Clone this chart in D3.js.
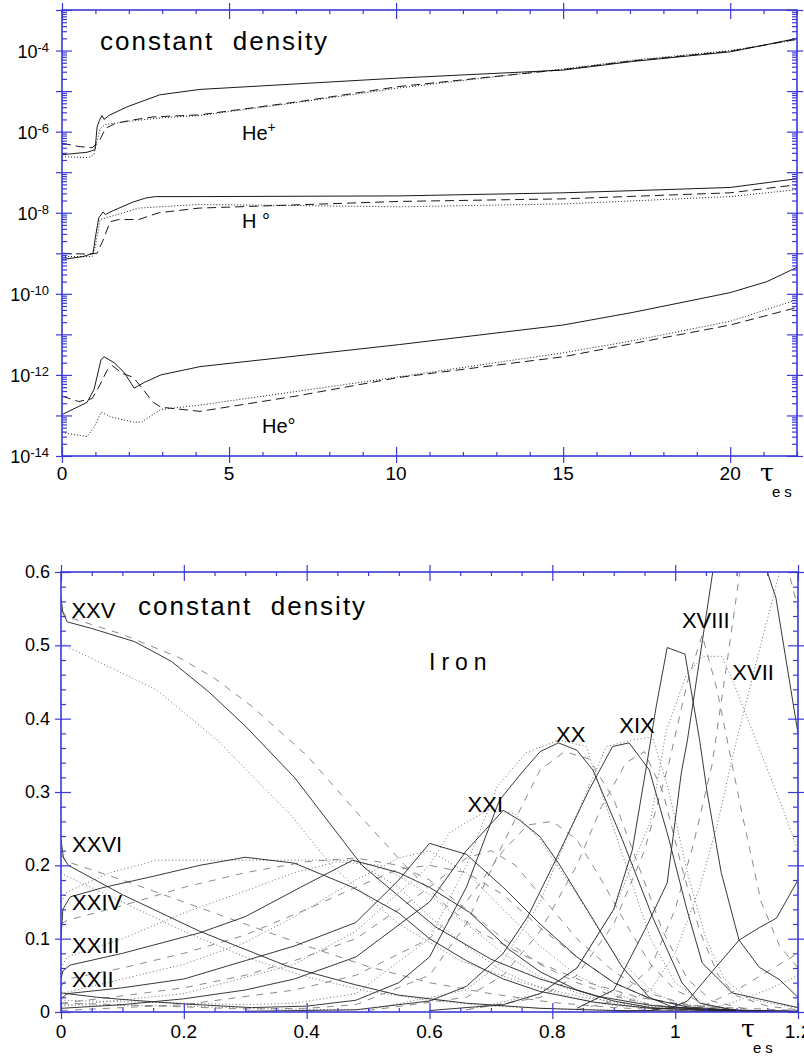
<!DOCTYPE html>
<html>
<head>
<meta charset="utf-8">
<script src="https://cdn.jsdelivr.net/npm/d3@7"></script>
<style>
  body { margin: 0; background: #fff; }
  svg { display: block; }
  text { font-family: "Liberation Sans", Arial, sans-serif; fill: #000; }
</style>
</head>
<body>
<div id="wrapper"></div>
<script>
// ---------- top panel : H and He fractions vs tau (log scale) ----------
const heIISolid  = [[0,2.7e-7],[0.75,3.1e-7],[0.99,3.6e-7],[1.05,1.3e-6],[1.12,1.9e-6],[1.2,2.5e-6],[1.26,2.0e-6],[1.4,2.5e-6],[1.95,4.1e-6],[2.93,8.1e-6],[4.13,1.1e-5],[10.1,2.1e-5],[15,3.3e-5],[17.1,5.4e-5],[20,9.3e-5],[21,1.35e-4],[22,2.0e-4]];
const heIIDashed = [[0,5.2e-7],[0.5,4.3e-7],[0.9,4.0e-7],[1.1,5.5e-7],[1.3,1.2e-6],[1.6,1.6e-6],[2.13,1.95e-6],[2.72,2.3e-6],[4.13,2.6e-6],[7.1,5.5e-6],[10.1,1.3e-5],[13.6,2.6e-5],[15,3.4e-5],[17.1,5.6e-5],[20,9.6e-5],[22,1.9e-4]];
const heIIDotted = [[0,2.4e-7],[0.8,2.3e-7],[0.95,2.7e-7],[1.05,6e-7],[1.15,1.2e-6],[1.3,1.5e-6],[2,1.8e-6],[3,2.2e-6],[4.13,2.5e-6],[7.1,5.3e-6],[10.1,1.2e-5],[13.6,2.6e-5],[15,3.5e-5],[17.1,5.8e-5],[20,1.0e-4],[22,1.85e-4]];

const hISolid  = [[0,7e-10],[0.63,8.3e-10],[0.93,1.0e-9],[1.0,2.5e-9],[1.1,7.5e-9],[1.23,1.05e-8],[1.3,9e-9],[1.5,1.1e-8],[2.1,1.8e-8],[2.5,2.3e-8],[2.8,2.5e-8],[4.1,2.5e-8],[10.1,2.6e-8],[15,3.1e-8],[17.1,3.5e-8],[20,4.2e-8],[22,6.9e-8]];
const hIDashed = [[0,1.0e-9],[0.8,9.5e-10],[1.05,1.0e-9],[1.23,2.1e-9],[1.44,6e-9],[1.7,6.8e-9],[2.3,6.8e-9],[2.9,1.0e-8],[4.1,1.3e-8],[10.1,1.9e-8],[15,2.2e-8],[20,3.1e-8],[22,4.9e-8]];
const hIDotted = [[0,8.3e-10],[0.9,8.3e-10],[1.0,1.5e-9],[1.14,6.8e-9],[1.35,7.6e-9],[2.3,1.3e-8],[4.1,1.6e-8],[10.1,1.4e-8],[15,1.65e-8],[20,2.5e-8],[22,3.7e-8]];

const heISolid  = [[0,1.05e-13],[0.75,2.1e-13],[0.96,4.4e-13],[1.17,2.4e-12],[1.26,2.8e-12],[1.56,2.0e-12],[1.86,1.15e-12],[2.16,4.7e-13],[2.46,6.5e-13],[2.96,1.0e-12],[4.13,1.6e-12],[10.1,5.6e-12],[15,1.7e-11],[17.1,3.5e-11],[20,1.07e-10],[21.1,2.0e-10],[22,4.5e-10]];
const heIDashed = [[0,3e-13],[0.5,2.2e-13],[0.9,2.6e-13],[1.1,5e-13],[1.35,1.3e-12],[1.5,1.7e-12],[1.8,1.1e-12],[2.13,8.7e-13],[2.43,4.4e-13],[2.7,2.2e-13],[2.96,1.6e-13],[4.13,1.26e-13],[7,3e-13],[10.1,8.7e-13],[15,2.8e-12],[20,1.7e-11],[22,4.6e-11]];
const heIDotted = [[0,3.8e-14],[0.75,3e-14],[0.95,5e-14],[1.17,1.2e-13],[1.5,9e-14],[2.16,6.8e-14],[2.37,6.8e-14],[2.96,1.4e-13],[4.13,1.8e-13],[10.1,9e-13],[15,3.5e-12],[17.1,7e-12],[20,2.1e-11],[22,7.2e-11]];

const topXTicks = [0, 5, 10, 15, 20];
const topYLabelExp = [-4, -6, -8, -10, -12, -14];

// ---------- bottom panel : iron ion fractions vs tau ----------
const fe26Solid  = [[0,0.235],[0.004,0.21],[0.012,0.2],[0.1,0.16],[0.226,0.11],[0.37,0.062],[0.48,0.037],[0.55,0.023],[0.66,0.012],[0.78,0.005],[0.9,0.002],[1.2,0]];
const fe26Dashed = [[0,0.215],[0.01,0.205],[0.1,0.18],[0.2,0.15],[0.3,0.12],[0.4,0.09],[0.5,0.062],[0.6,0.04],[0.7,0.025],[0.8,0.013],[0.9,0.006],[1.0,0.002],[1.2,0]];
const fe26Dotted = [[0,0.19],[0.01,0.185],[0.1,0.15],[0.2,0.11],[0.3,0.075],[0.4,0.048],[0.5,0.028],[0.6,0.016],[0.7,0.008],[0.85,0.003],[1.0,0.001],[1.2,0]];

const fe25Solid  = [[0,0.565],[0.003,0.545],[0.01,0.532],[0.05,0.523],[0.12,0.505],[0.18,0.478],[0.24,0.437],[0.3,0.39],[0.38,0.32],[0.49,0.2],[0.61,0.116],[0.7,0.072],[0.78,0.045],[0.87,0.022],[0.96,0.009],[1.05,0.003],[1.2,0.001]];
const fe25Dashed = [[0,0.548],[0.01,0.539],[0.1,0.515],[0.193,0.483],[0.25,0.455],[0.312,0.416],[0.4,0.35],[0.483,0.271],[0.56,0.2],[0.62,0.15],[0.68,0.11],[0.77,0.07],[0.85,0.042],[0.94,0.02],[1.03,0.008],[1.2,0.002]];
const fe25Dotted = [[0,0.505],[0.01,0.498],[0.08,0.47],[0.156,0.439],[0.254,0.371],[0.377,0.266],[0.44,0.2],[0.55,0.12],[0.65,0.07],[0.75,0.04],[0.85,0.02],[0.95,0.008],[1.1,0.002]];

const fe24Solid  = [[0,0.1],[0.003,0.14],[0.015,0.157],[0.07,0.17],[0.15,0.185],[0.226,0.2],[0.3,0.211],[0.38,0.203],[0.475,0.17],[0.55,0.135],[0.6,0.1],[0.66,0.07],[0.72,0.045],[0.78,0.028],[0.87,0.013],[0.96,0.005],[1.2,0.001]];
const fe24Dashed = [[0,0.12],[0.01,0.125],[0.1,0.145],[0.2,0.17],[0.3,0.19],[0.4,0.205],[0.48,0.21],[0.55,0.2],[0.6,0.18],[0.66,0.14],[0.72,0.1],[0.78,0.065],[0.84,0.04],[0.9,0.022],[0.96,0.01],[1.05,0.003],[1.2,0]];
const fe24Dotted = [[0,0.15],[0.01,0.164],[0.08,0.19],[0.156,0.207],[0.475,0.207],[0.55,0.17],[0.6,0.13],[0.66,0.09],[0.72,0.055],[0.78,0.033],[0.84,0.018],[0.9,0.009],[1.0,0.003],[1.2,0]];

const fe23Solid  = [[0,0.045],[0.003,0.056],[0.015,0.064],[0.1,0.08],[0.226,0.108],[0.3,0.13],[0.39,0.17],[0.475,0.207],[0.55,0.19],[0.6,0.17],[0.665,0.136],[0.73,0.085],[0.78,0.055],[0.84,0.03],[0.9,0.015],[0.96,0.006],[1.05,0.002],[1.2,0]];
const fe23Dashed = [[0,0.035],[0.01,0.045],[0.1,0.06],[0.2,0.08],[0.3,0.105],[0.4,0.14],[0.48,0.17],[0.55,0.195],[0.6,0.2],[0.66,0.19],[0.72,0.16],[0.78,0.115],[0.84,0.075],[0.9,0.04],[0.96,0.018],[1.02,0.007],[1.1,0.002]];
const fe23Dotted = [[0,0.06],[0.01,0.075],[0.1,0.1],[0.2,0.135],[0.3,0.165],[0.38,0.19],[0.45,0.205],[0.52,0.2],[0.6,0.16],[0.66,0.12],[0.72,0.08],[0.78,0.048],[0.84,0.026],[0.9,0.012],[0.96,0.005],[1.05,0.001]];

const fe22Solid  = [[0,0.018],[0.01,0.025],[0.1,0.033],[0.2,0.045],[0.3,0.07],[0.38,0.09],[0.48,0.122],[0.55,0.18],[0.6,0.23],[0.66,0.215],[0.72,0.17],[0.78,0.12],[0.84,0.075],[0.9,0.04],[0.96,0.018],[1.02,0.007],[1.1,0.002]];
const fe22Dashed = [[0,0.012],[0.1,0.022],[0.2,0.033],[0.3,0.05],[0.38,0.07],[0.48,0.1],[0.55,0.14],[0.6,0.17],[0.66,0.21],[0.7,0.22],[0.74,0.2],[0.78,0.16],[0.84,0.1],[0.9,0.055],[0.96,0.025],[1.02,0.01],[1.1,0.003]];
const fe22Dotted = [[0,0.025],[0.1,0.045],[0.2,0.065],[0.3,0.095],[0.38,0.13],[0.48,0.18],[0.55,0.21],[0.6,0.22],[0.66,0.19],[0.72,0.14],[0.78,0.09],[0.84,0.05],[0.9,0.025],[0.96,0.01],[1.05,0.002]];

const fe21Solid  = [[0,0.005],[0.1,0.01],[0.2,0.018],[0.3,0.03],[0.38,0.045],[0.48,0.075],[0.6,0.15],[0.66,0.22],[0.72,0.275],[0.746,0.262],[0.78,0.239],[0.81,0.203],[0.86,0.135],[0.914,0.061],[0.958,0.02],[0.995,0.007],[1.1,0.001]];
const fe21Dashed = [[0,0.002],[0.2,0.01],[0.38,0.03],[0.48,0.05],[0.6,0.1],[0.66,0.15],[0.72,0.22],[0.76,0.255],[0.8,0.26],[0.84,0.235],[0.88,0.18],[0.92,0.12],[0.96,0.065],[1.0,0.03],[1.05,0.01],[1.1,0.003]];
const fe21Dotted = [[0,0.008],[0.2,0.025],[0.38,0.065],[0.48,0.11],[0.6,0.2],[0.633,0.245],[0.7,0.278],[0.74,0.27],[0.78,0.235],[0.84,0.16],[0.9,0.08],[0.96,0.03],[1.0,0.012],[1.1,0.002]];

const fe20Solid  = [[0,0.026],[0.06,0.02],[0.117,0.016],[0.2,0.011],[0.31,0.006],[0.4,0.008],[0.48,0.016],[0.55,0.04],[0.6,0.075],[0.66,0.17],[0.714,0.289],[0.75,0.326],[0.78,0.355],[0.81,0.367],[0.84,0.357],[0.866,0.33],[0.914,0.235],[0.963,0.13],[1.011,0.04],[1.04,0.012],[1.1,0.002]];
const fe20Dashed = [[0,0.012],[0.1,0.01],[0.2,0.007],[0.3,0.004],[0.4,0.005],[0.48,0.01],[0.6,0.05],[0.66,0.12],[0.72,0.23],[0.78,0.33],[0.82,0.355],[0.86,0.345],[0.9,0.29],[0.94,0.2],[0.98,0.11],[1.02,0.045],[1.06,0.015],[1.12,0.003]];
const fe20Dotted = [[0,0.016],[0.1,0.014],[0.2,0.012],[0.3,0.01],[0.38,0.012],[0.48,0.025],[0.6,0.1],[0.66,0.2],[0.71,0.307],[0.757,0.353],[0.81,0.371],[0.855,0.362],[0.88,0.3],[0.92,0.2],[0.96,0.1],[1.0,0.04],[1.05,0.01],[1.1,0.002]];

const fe19Solid  = [[0.3,0.001],[0.48,0.003],[0.6,0.015],[0.66,0.035],[0.72,0.08],[0.76,0.13],[0.8,0.198],[0.86,0.303],[0.898,0.362],[0.925,0.367],[0.958,0.33],[0.99,0.235],[1.018,0.143],[1.044,0.067],[1.093,0.026],[1.2,0.006]];
const fe19Dashed = [[0.5,0.002],[0.66,0.02],[0.72,0.05],[0.78,0.11],[0.84,0.2],[0.88,0.28],[0.92,0.34],[0.95,0.355],[0.98,0.3],[1.01,0.2],[1.04,0.11],[1.07,0.05],[1.1,0.022],[1.15,0.008],[1.2,0.003]];
const fe19Dotted = [[0,0.01],[0.2,0.008],[0.35,0.004],[0.5,0.003],[0.66,0.03],[0.72,0.07],[0.78,0.15],[0.84,0.27],[0.888,0.362],[0.93,0.371],[0.963,0.375],[0.99,0.3],[1.02,0.19],[1.05,0.1],[1.08,0.045],[1.12,0.018],[1.2,0.005]];

const fe18Solid  = [[0.6,0.002],[0.72,0.01],[0.78,0.025],[0.84,0.06],[0.9,0.14],[0.93,0.22],[0.953,0.334],[0.969,0.416],[0.987,0.497],[1.016,0.488],[1.04,0.37],[1.052,0.3],[1.075,0.19],[1.104,0.098],[1.137,0.061],[1.17,0.044],[1.2,0.02]];
const fe18Dashed = [[0.66,0.003],[0.78,0.02],[0.84,0.05],[0.9,0.12],[0.95,0.22],[0.99,0.34],[1.02,0.45],[1.044,0.514],[1.068,0.44],[1.109,0.27],[1.14,0.15],[1.17,0.09],[1.2,0.06]];
const fe18Dotted = [[0.66,0.003],[0.78,0.025],[0.84,0.06],[0.9,0.14],[0.96,0.26],[0.985,0.382],[1.018,0.46],[1.045,0.485],[1.076,0.485],[1.093,0.453],[1.174,0.28],[1.2,0.22]];

const fe17Solid  = [[0.84,0.005],[0.9,0.03],[0.953,0.116],[0.987,0.176],[1.01,0.326],[1.02,0.371],[1.063,0.61],[1.1,0.69],[1.15,0.6],[1.164,0.565],[1.2,0.38]];
const fe17Dashed = [[0.84,0.003],[0.9,0.015],[0.96,0.06],[1.0,0.14],[1.03,0.23],[1.06,0.337],[1.085,0.48],[1.107,0.61],[1.14,0.68],[1.17,0.65],[1.2,0.55]];
const fe17Dotted = [[0.9,0.005],[0.96,0.03],[1.0,0.08],[1.04,0.17],[1.07,0.26],[1.093,0.347],[1.13,0.47],[1.17,0.6],[1.2,0.66]];

const fe16Solid  = [[0.9,0],[0.96,0.002],[0.998,0.007],[1.02,0.015],[1.06,0.055],[1.104,0.098],[1.137,0.115],[1.165,0.128],[1.2,0.18]];
const fe16Dashed = [[1.0,0.001],[1.05,0.01],[1.1,0.03],[1.15,0.055],[1.2,0.08]];
const fe16Dotted = [[1.05,0.002],[1.1,0.015],[1.15,0.03],[1.2,0.05]];

// label anchors: left end of text at tau, baseline at fraction
const ironLabels = [
  {t: "XXV", tau: 0.017, v: 0.537}, {t: "XXVI", tau: 0.018, v: 0.218},
  {t: "XXIV", tau: 0.018, v: 0.139}, {t: "XXIII", tau: 0.018, v: 0.080},
  {t: "XXII", tau: 0.018, v: 0.034}, {t: "XXI", tau: 0.662, v: 0.273},
  {t: "XX", tau: 0.806, v: 0.368}, {t: "XIX", tau: 0.909, v: 0.381},
  {t: "XVIII", tau: 1.011, v: 0.524}, {t: "XVII", tau: 1.093, v: 0.453}
];
const botXTicks = [0, 0.2, 0.4, 0.6, 0.8, 1, 1.2];
const botYTicks = [0, 0.1, 0.2, 0.3, 0.4, 0.5, 0.6];

const axisBlue = "#3a3ad8";
const styles = {
  top: {
    solid:  {stroke: "#000", dash: null, w: 0.9},
    dashed: {stroke: "#000", dash: "9,5", w: 0.9},
    dotted: {stroke: "#000", dash: "1,2", w: 0.9}
  },
  bot: {
    solid:  {stroke: "#222", dash: null, w: 0.9},
    dashed: {stroke: "#7d7d7d", dash: "7,7", w: 0.9},
    dotted: {stroke: "#707070", dash: "1,2.5", w: 1}
  }
};

const svg = d3.select("#wrapper").append("svg")
  .attr("width", 804)
  .attr("height", 1057);

// tick marks that cross the frame: one generator outward, one inward
function tickMarks(g, axisFn, scale, values, outSize, inSize) {
  if (outSize > 0) {
    g.append("g").call(axisFn(scale).tickValues(values).tickSize(outSize).tickSizeOuter(0).tickFormat(""));
  }
  g.append("g").call(axisFn(scale).tickValues(values).tickSize(-inSize).tickSizeOuter(0).tickFormat(""));
}

function drawFrame(x, y, xMajor, xMinor, yMajor, yMinor) {
  const [x0, x1] = x.range();
  const [y0, y1] = y.range(); // y0 bottom, y1 top
  const frame = svg.append("g");

  const bottom = frame.append("g").attr("transform", `translate(0,${y0})`);
  tickMarks(bottom, d3.axisBottom, x, xMajor, 7, 9);
  tickMarks(bottom, d3.axisBottom, x, xMinor, 0, 4);
  const top = frame.append("g").attr("transform", `translate(0,${y1})`);
  tickMarks(top, d3.axisTop, x, xMajor, 7, 9);
  tickMarks(top, d3.axisTop, x, xMinor, 0, 4);
  const left = frame.append("g").attr("transform", `translate(${x0},0)`);
  tickMarks(left, d3.axisLeft, y, yMajor, 6, 10);
  tickMarks(left, d3.axisLeft, y, yMinor, 0, 5);
  const right = frame.append("g").attr("transform", `translate(${x1},0)`);
  tickMarks(right, d3.axisRight, y, yMajor, 6, 10);
  tickMarks(right, d3.axisRight, y, yMinor, 0, 5);

  frame.selectAll(".domain").remove();
  frame.selectAll(".tick line").attr("stroke", axisBlue).attr("stroke-width", 1.2);

  frame.append("rect")
    .attr("x", x0).attr("y", y1)
    .attr("width", x1 - x0).attr("height", y0 - y1)
    .attr("fill", "none")
    .attr("stroke", axisBlue)
    .attr("stroke-width", 1.6);
}

function drawSeries(x, y, series, clipId, st) {
  const [x0, x1] = x.range();
  const [y0, y1] = y.range();
  svg.append("clipPath").attr("id", clipId)
    .append("rect").attr("x", x0).attr("y", y1).attr("width", x1 - x0).attr("height", y0 - y1);
  const line = d3.line().x(d => x(d[0])).y(d => y(d[1]));
  const g = svg.append("g").attr("clip-path", `url(#${clipId})`);
  series.forEach(s => {
    const p = st[s.style];
    g.append("path")
      .attr("d", line(s.data))
      .attr("fill", "none")
      .attr("stroke", p.stroke)
      .attr("stroke-width", p.w)
      .attr("stroke-dasharray", p.dash);
  });
}

function tauLabel(xPos, yPos) {
  svg.append("text").attr("x", xPos).attr("y", yPos)
    .style("font-family", "'DejaVu Serif', serif").style("font-size", "25px").text("τ");
  svg.append("text").attr("x", xPos + 12).attr("y", yPos + 16)
    .style("font-size", "15px").style("letter-spacing", "4px").text("es");
}

// ================= top panel =================
const xTop = d3.scaleLinear().domain([0, 22]).range([62, 797]);
const yTop = d3.scaleLog().domain([1e-14, 1e-3]).range([456, 10]);

const topSeries = [
  {data: heIISolid, style: "solid"}, {data: heIIDashed, style: "dashed"}, {data: heIIDotted, style: "dotted"},
  {data: hISolid, style: "solid"}, {data: hIDashed, style: "dashed"}, {data: hIDotted, style: "dotted"},
  {data: heISolid, style: "solid"}, {data: heIDashed, style: "dashed"}, {data: heIDotted, style: "dotted"}
];
drawSeries(xTop, yTop, topSeries, "clipTop", styles.top);

const decades = d3.range(-14, -2).map(e => Math.pow(10, e));
const logMinor = [];
decades.slice(0, -1).forEach(dv => d3.range(2, 10).forEach(m => logMinor.push(dv * m)));
drawFrame(xTop, yTop, topXTicks, d3.range(0, 23).filter(v => v % 5 !== 0), decades, logMinor);

svg.append("g").selectAll("text")
  .data(topXTicks).join("text")
  .attr("x", d => xTop(d)).attr("y", 480)
  .attr("text-anchor", "middle")
  .style("font-size", "19px")
  .text(d => d);

const yLab = svg.append("g").selectAll("text")
  .data(topYLabelExp).join("text")
  .attr("x", 49).attr("y", d => yTop(Math.pow(10, d)) + 7)
  .attr("text-anchor", "end")
  .style("font-size", "18px");
yLab.append("tspan").text("10");
yLab.append("tspan").attr("dy", -6).style("font-size", "13px").text(d => d);

tauLabel(760, 481);

svg.append("text").attr("x", 100).attr("y", 50)
  .style("font-size", "26px").style("letter-spacing", "2px")
  .text("constant\u00a0\u00a0density");
const heIIlab = svg.append("text").attr("x", 242).attr("y", 140).style("font-size", "20px");
heIIlab.append("tspan").text("He");
heIIlab.append("tspan").attr("dy", -8).style("font-size", "14px").text("+");
svg.append("text").attr("x", 242).attr("y", 228).style("font-size", "20px").text("H\u00a0\u00b0");
svg.append("text").attr("x", 262).attr("y", 433).style("font-size", "20px").text("He\u00b0");

// ================= bottom panel =================
const xBot = d3.scaleLinear().domain([0, 1.2]).range([61, 798]);
const yBot = d3.scaleLinear().domain([0, 0.6]).range([1012, 572]);

const ironSets = [
  [fe26Solid, fe26Dashed, fe26Dotted], [fe25Solid, fe25Dashed, fe25Dotted],
  [fe24Solid, fe24Dashed, fe24Dotted], [fe23Solid, fe23Dashed, fe23Dotted],
  [fe22Solid, fe22Dashed, fe22Dotted], [fe21Solid, fe21Dashed, fe21Dotted],
  [fe20Solid, fe20Dashed, fe20Dotted], [fe19Solid, fe19Dashed, fe19Dotted],
  [fe18Solid, fe18Dashed, fe18Dotted], [fe17Solid, fe17Dashed, fe17Dotted],
  [fe16Solid, fe16Dashed, fe16Dotted]
];
const botSeries = [];
["dotted", "dashed", "solid"].forEach(st => {
  const k = {solid: 0, dashed: 1, dotted: 2}[st];
  ironSets.forEach(set => botSeries.push({data: set[k], style: st}));
});
drawSeries(xBot, yBot, botSeries, "clipBot", styles.bot);

drawFrame(xBot, yBot, botXTicks,
  d3.range(1, 24).map(i => i * 0.05).filter((v, i) => (i + 1) % 4 !== 0),
  botYTicks,
  d3.range(1, 30).map(i => i * 0.02).filter((v, i) => (i + 1) % 5 !== 0));

svg.append("g").selectAll("text")
  .data(botXTicks).join("text")
  .attr("x", d => xBot(d)).attr("y", 1038)
  .attr("text-anchor", "middle")
  .style("font-size", "19px")
  .text(d3.format("~g"));

svg.append("g").selectAll("text")
  .data(botYTicks).join("text")
  .attr("x", 50).attr("y", d => yBot(d) + 6)
  .attr("text-anchor", "end")
  .style("font-size", "18px")
  .text(d => d === 0 ? "0" : d3.format(".1f")(d));

tauLabel(741, 1037);

svg.append("text").attr("x", 138).attr("y", 615)
  .style("font-size", "26px").style("letter-spacing", "2px")
  .text("constant\u00a0\u00a0density");
svg.append("text").attr("x", 429).attr("y", 670)
  .style("font-size", "23px").style("letter-spacing", "6px")
  .text("Iron");

svg.append("g").selectAll("text")
  .data(ironLabels).join("text")
  .attr("x", d => xBot(d.tau)).attr("y", d => yBot(d.v))
  .style("font-size", "22px")
  .text(d => d.t);
</script>
</body>
</html>
